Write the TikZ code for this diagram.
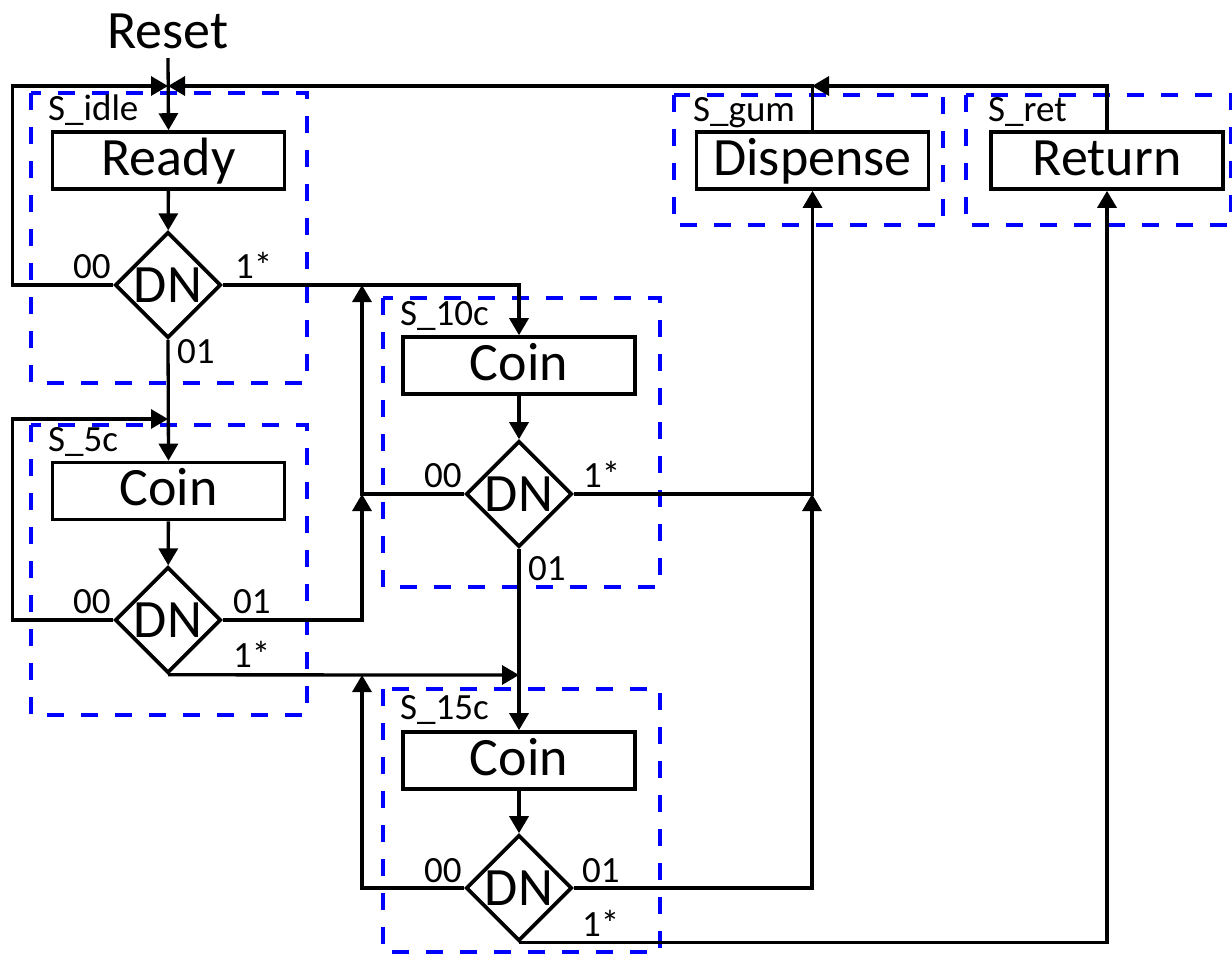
\documentclass[tikz,border=0pt]{standalone}
\usepackage{fontspec}
\setmainfont{Carlito}
\usetikzlibrary{arrows.meta,shapes.geometric}
\tikzset{
  arr/.style={line width=3.3pt,-{Triangle[length=17pt,width=19pt]}},
  statebox/.style={draw=blue,line width=4pt,dash pattern=on 17pt off 17pt},
  actbox/.style={draw,line width=3.6pt,rectangle,minimum width=232pt,minimum height=57pt,
     inner sep=0pt,font=\fontsize{54pt}{60pt}\selectfont,text height=40pt,text depth=11pt},
  dn/.style={draw,line width=3.6pt,diamond,minimum width=106pt,minimum height=106pt,aspect=1,
     inner sep=0pt,font=\fontsize{54pt}{60pt}\selectfont,text height=34pt,text depth=0pt},
  lab/.style={anchor=base west,inner sep=0pt,font=\fontsize{37pt}{40pt}\selectfont},
}
\begin{document}
\begin{tikzpicture}[x=1pt,y=-1pt]
\useasboundingbox (0,0) rectangle (1232,954);
% state boxes
\draw[statebox] (31,93) rectangle (307,383);
\draw[statebox] (31,425) rectangle (307,715);
\draw[statebox] (383,298) rectangle (660,587);
\draw[statebox] (383,689) rectangle (660,952);
\draw[statebox] (674,95) rectangle (943,225);
\draw[statebox] (966,95) rectangle (1231,225);
% state labels
\node[lab] (lidle) at (48,120) {S\_idle};
\node[lab] (l5) at (48,451) {S\_5c};
\node[lab] (l10) at (400,325) {S\_10c};
\node[lab] (l15) at (400,719) {S\_15c};
\node[lab] (lgum) at (693,121) {S\_gum};
\node[lab] (lret) at (988,121) {S\_ret};
% reset
\node[anchor=base,inner sep=0pt,font=\fontsize{54pt}{60pt}\selectfont] (reset) at (168,48) {Reset};
\coordinate (rs) at (168,58);
% action boxes
\node[actbox] (ready) at (168.5,160.5) {Ready};
\node[actbox] (coin5) at (168.5,491) {Coin};
\node[actbox] (coin10) at (519,365.5) {Coin};
\node[actbox] (coin15) at (519,760.5) {Coin};
\node[actbox] (gum) at (812.5,160.5) {Dispense};
\node[actbox] (ret) at (1107,160.5) {Return};
% decisions
\node[dn] (dn1) at (168,285) {\makebox[0pt]{DN}};
\node[dn] (dn5) at (168,620) {\makebox[0pt]{DN}};
\node[dn] (dn10) at (519,494) {\makebox[0pt]{DN}};
\node[dn] (dn15) at (519,888) {\makebox[0pt]{DN}};
% junctions
\coordinate (jtop) at (168,86);
\coordinate (jgum) at (812,86);
\coordinate (j5) at (168,419);
\coordinate (j10) at (362,494);
\coordinate (j1) at (362,285);
\coordinate (j15) at (519,675);
\coordinate (j5b) at (362,675);
\coordinate (jg) at (812,494);
% edge labels
\node[lab] (a1) at (73,278) {00};
\node[lab] (a2) at (235,278) {1*};
\node[lab] (a3) at (177,363) {01};
\node[lab] (b1) at (73,613) {00};
\node[lab] (b2) at (233,613) {01};
\node[lab] (b3) at (233,667) {1*};
\node[lab] (c1) at (424,487) {00};
\node[lab] (c2) at (583,487) {1*};
\node[lab] (c3) at (528,580) {01};
\node[lab] (d1) at (424,882) {00};
\node[lab] (d2) at (582,882) {01};
\node[lab] (d3) at (582,936) {1*};
% connectors
\draw[arr] (rs) -- (ready.north);
\draw[arr] (ready) -- (dn1);
\draw[arr] (dn1.west) -- ++(-101,0) |- (jtop);
\draw[arr] (gum.north) |- (jtop);
\draw[arr] (ret.north) |- (jgum);
\draw[arr] (dn1.south) -- (coin5.north);
\draw[arr] (coin5) -- (dn5);
\draw[arr] (dn5.west) -- ++(-101,0) |- (j5);
\draw[arr] (dn1.east) -| (coin10.north);
\draw[arr] (dn5.east) -| (j10);
\draw[arr] (dn10.west) -| (j1);
\draw[arr] (coin10) -- (dn10);
\draw[arr] (dn10.south) -- (coin15.north);
\draw[arr] (dn5.south) -- (j15);
\draw[arr] (dn15.west) -| (j5b);
\draw[arr] (coin15) -- (dn15);
\draw[arr] (dn10.east) -| (gum.south);
\draw[arr] (dn15.east) -| (jg);
\draw[arr] (dn15.south) -| (ret.south);
\end{tikzpicture}
\end{document}
